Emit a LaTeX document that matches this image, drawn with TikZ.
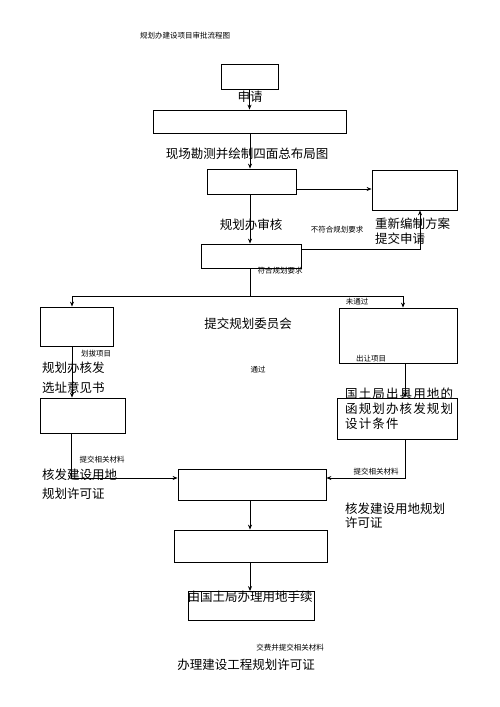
\documentclass[tikz,border=0pt]{standalone}
\usepackage{fontspec}
\setmainfont{Noto Sans CJK SC}
\newfontfamily\widecjk[LetterSpace=9]{Noto Sans CJK SC}
\usepackage{tikz}
\usetikzlibrary{arrows.meta}

\begin{document}
\begin{tikzpicture}[x=1pt, y=-1pt,
  box/.style={draw, line width=0.8pt, inner sep=0pt},
  lbl/.style={font=\fontsize{12.5}{15}\selectfont, inner sep=0pt},
  note/.style={font=\fontsize{7.5}{9}\selectfont, inner sep=0pt},
  arr/.style={-{Stealth[length=5pt,width=4pt]}, line width=0.8pt},
  ln/.style={line width=0.8pt}
]
\useasboundingbox (0,0) rectangle (500,707);
\node[note, anchor=west] (title) at (140,36) {规划办建设项目审批流程图};

% boxes
\node[box, minimum width=57pt, minimum height=25pt] (apply) at (249.5,76.5) {};
\node[box, minimum width=193pt, minimum height=23pt] (survey) at (250,121.5) {};
\node[box, minimum width=89pt, minimum height=25pt] (review) at (251.5,181.5) {};
\node[box, minimum width=85pt, minimum height=40pt] (redo) at (414.5,190) {};
\node[box, minimum width=100pt, minimum height=24pt] (check) at (251.5,256) {};
\node[box, minimum width=73pt, minimum height=39pt] (huabo) at (76.5,326.5) {};
\node[box, minimum width=118pt, minimum height=55pt] (churang) at (398,335.5) {};
\node[box, minimum width=85pt, minimum height=35pt] (xuanzhi) at (82.5,415.5) {};
\node[box, minimum width=120pt, minimum height=41pt] (guotu) at (397,418.5) {};
\node[box, minimum width=148pt, minimum height=31pt] (permit) at (252,484.5) {};
\node[box, minimum width=153pt, minimum height=32pt] (land) at (250.5,546) {};
\node[box, minimum width=126pt, minimum height=29pt] (last) at (251,606) {};

% connectors
\draw[arr] (apply.south) -- (apply.south |- survey.north);
\draw[arr] (survey.south) -- (survey.south |- review.north);
\coordinate (rv) at ([yshift=-7.5pt]review.east);
\draw[arr] (rv) -- (rv -| redo.west);
\draw[arr] ([xshift=-1.5pt]review.south) -- ([xshift=-1.5pt]review.south |- check.north);
\coordinate (ck) at ([yshift=7pt]check.east);
\draw[arr] (ck) -| ([xshift=5.5pt]redo.south);
\draw[ln] ([xshift=-1.5pt]check.south) -- ++(0,28) coordinate (split);
\draw[arr] (split) -| ([xshift=-4.5pt]huabo.north);
\draw[arr] (split) -| ([xshift=5pt]churang.north);
\draw[arr] ([xshift=-4.5pt]huabo.south) -- ([xshift=-4.5pt]huabo.south |- xuanzhi.north);
\draw[arr] ([xshift=7pt]churang.south) -- ([xshift=7pt]churang.south |- guotu.north);
\draw[arr] ([xshift=-11.5pt]xuanzhi.south) |- ([yshift=6.5pt]permit.west);
\draw[arr] ([xshift=8pt]guotu.south) |- ([yshift=6.5pt]permit.east);
\draw[arr] ([xshift=-2pt]permit.south) -- ([xshift=-2pt]permit.south |- land.north);
\draw[arr] ([xshift=-0.5pt]land.south) -- ([xshift=-0.5pt]land.south |- last.north);

% labels
\node[lbl] (l1) at (250,97) {申请};
\node[lbl] (l2) at (247,154) {现场勘测并绘制四面总布局图};
\node[lbl, anchor=north west, align=left] (l3) at (375,218) {重新编制方案\\提交申请};
\node[lbl] (l4) at (251,225) {规划办审核};
\node[note] (n1) at (337,230) {不符合规划要求};
\node[note] (n2) at (280,271) {符合规划要求};
\node[note] (n3) at (357,302) {未通过};
\node[lbl] (l5) at (248,324) {提交规划委员会};
\node[note] (n4) at (258,370) {通过};
\node[note] (n5) at (96,354) {划拔项目};
\node[note] (n6) at (371,359) {出让项目};
\node[lbl, anchor=north west, align=left, font=\fontsize{12.5}{20}\selectfont] (l6) at (42,362) {规划办核发\\选址意见书};
\node[lbl, anchor=north west, align=left, font=\widecjk\fontsize{12.5}{15}\selectfont] (l7) at (345,388) {国土局出具用地的\\函规划办核发规划\\设计条件};
\node[note] (n7) at (102,460) {提交相关材料};
\node[note] (n8) at (376,472) {提交相关材料};
\node[lbl, anchor=north west, align=left, font=\fontsize{12.5}{19}\selectfont] (l8) at (42,469) {核发建设用地\\规划许可证};
\node[lbl, anchor=north west, align=left, font=\fontsize{12.5}{14}\selectfont] (l9) at (345,503) {核发建设用地规划\\许可证};
\node[lbl] (l10) at (250,597) {由国土局办理用地手续};
\node[note] (n9) at (290,648) {交费并提交相关材料};
\node[lbl] (l11) at (246,665) {办理建设工程规划许可证};
\end{tikzpicture}
\end{document}
